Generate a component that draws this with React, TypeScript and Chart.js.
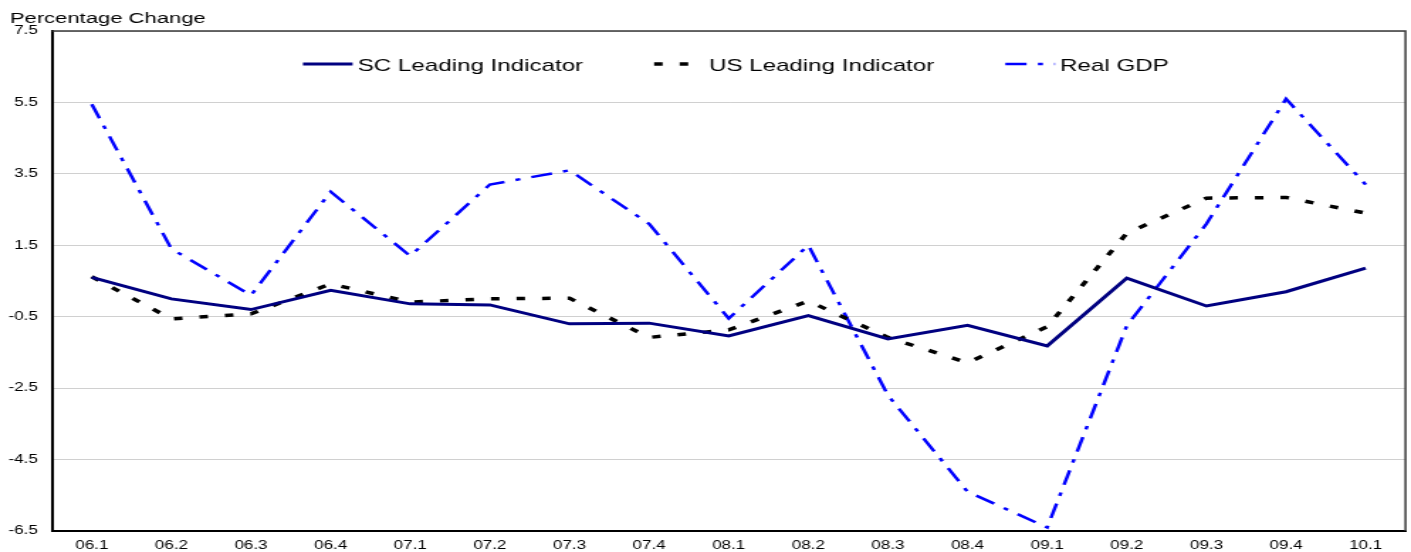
import React, { useEffect, useRef } from 'react';
import { Chart, registerables } from 'chart.js';

Chart.register(...registerables);

const categories = ['06.1', '06.2', '06.3', '06.4', '07.1', '07.2', '07.3', '07.4', '08.1', '08.2', '08.3', '08.4', '09.1', '09.2', '09.3', '09.4', '10.1'];
const scLeading = [0.6, 0.0, -0.3, 0.24, -0.14, -0.17, -0.7, -0.68, -1.04, -0.47, -1.12, -0.74, -1.32, 0.58, -0.2, 0.2, 0.86];
const usLeading = [0.62, -0.56, -0.42, 0.42, -0.09, 0.0, 0.02, -1.08, -0.87, -0.06, -1.08, -1.79, -0.78, 1.84, 2.82, 2.84, 2.4];
const realGdp = [5.45, 1.4, 0.1, 3.0, 1.2, 3.2, 3.6, 2.1, -0.55, 1.5, -2.7, -5.4, -6.4, -0.75, 2.1, 5.6, 3.2];
const yTickValues = [7.5, 5.5, 3.5, 1.5, -0.5, -2.5, -4.5, -6.5];
const seriesNames = ['SC Leading Indicator', 'US Leading Indicator', 'Real GDP'];

const STRETCH = 1.42;
const OUT_W = 1411;
const H = 552;
const BASE_W = Math.round(OUT_W / STRETCH);
const FONT = '"Liberation Sans", Arial, Helvetica, sans-serif';

export default function App() {
  const ref = useRef<HTMLCanvasElement>(null);

  useEffect(() => {
    document.body.style.margin = '0';
    const canvas = ref.current;
    if (!canvas) return;

    const framePlugin = {
      id: 'frameAndLegend',
      afterDraw(chart: any) {
        const { ctx, chartArea } = chart;
        const { left, right, top } = chartArea;
        ctx.save();
        ctx.strokeStyle = '#3a3a3a';
        ctx.lineWidth = 1.5;
        ctx.setLineDash([]);
        ctx.beginPath();
        ctx.moveTo(left, top);
        ctx.lineTo(right, top);
        ctx.lineTo(right, chartArea.bottom);
        ctx.stroke();

        ctx.fillStyle = '#000';
        ctx.font = `15.5px ${FONT}`;
        ctx.textBaseline = 'alphabetic';
        ctx.textAlign = 'left';
        ctx.fillText('Percentage Change', 7, 23);

        const startX = left + 176.8;
        const step = 247.4;
        chart.data.datasets.forEach((ds: any, i: number) => {
          const x0 = startX + i * step;
          ctx.strokeStyle = ds.borderColor;
          ctx.lineWidth = ds.borderWidth;
          ctx.setLineDash(ds.borderDash || []);
          ctx.beginPath();
          ctx.moveTo(x0, 64);
          ctx.lineTo(x0 + 35, 64);
          ctx.stroke();
          ctx.setLineDash([]);
          ctx.fillStyle = '#000';
          ctx.font = `17px ${FONT}`;
          ctx.fillText(ds.label, x0 + 38.6, 70.5);
        });
        ctx.restore();
      },
    };

    const chart = new Chart(canvas, {
      type: 'line',
      data: {
        labels: categories,
        datasets: [
          {
            label: seriesNames[0],
            data: scLeading,
            borderColor: '#000080',
            borderWidth: 3,
            pointRadius: 0,
            tension: 0,
            fill: false,
          },
          {
            label: seriesNames[1],
            data: usLeading,
            borderColor: '#000000',
            borderWidth: 3.5,
            borderDash: [6, 12],
            pointRadius: 0,
            tension: 0,
            fill: false,
          },
          {
            label: seriesNames[2],
            data: realGdp,
            borderColor: '#0000FF',
            borderWidth: 2.5,
            borderDash: [15, 8, 3.5, 8],
            pointRadius: 0,
            tension: 0,
            fill: false,
          },
        ],
      },
      options: {
        responsive: false,
        animation: false,
        devicePixelRatio: 1,
        layout: { padding: { top: 31, left: 0, right: BASE_W - 990.1, bottom: 0 } },
        plugins: {
          legend: { display: false },
          title: { display: false },
          tooltip: { enabled: false },
        },
        scales: {
          x: {
            type: 'category',
            offset: true,
            grid: { display: false, drawTicks: false },
            border: { display: true, color: '#000', width: 2 },
            ticks: {
              color: '#000',
              font: { family: FONT, size: 12 },
              padding: 7,
              maxRotation: 0,
              autoSkip: false,
            },
            afterFit: (s: any) => {
              s.height = 21;
            },
          },
          y: {
            type: 'linear',
            min: -6.5,
            max: 7.5,
            afterBuildTicks: (s: any) => {
              s.ticks = yTickValues.map((v) => ({ value: v }));
            },
            grid: { color: '#d0d0d0', lineWidth: 1, drawTicks: false },
            border: { display: true, color: '#000', width: 2 },
            ticks: {
              color: '#000',
              font: { family: FONT, size: 12 },
              padding: 10,
              callback: (v: any) => Number(v).toFixed(1),
            },
            afterFit: (s: any) => {
              s.width = 36.6;
            },
          },
        },
      },
      plugins: [framePlugin],
    });

    return () => chart.destroy();
  }, []);

  return (
    <div style={{ position: 'absolute', left: 0, top: 0, width: OUT_W, height: H, background: '#fff' }}>
      <canvas
        ref={ref}
        width={BASE_W}
        height={H}
        style={{ width: `${OUT_W}px`, height: `${H}px`, display: 'block' }}
      />
    </div>
  );
}
